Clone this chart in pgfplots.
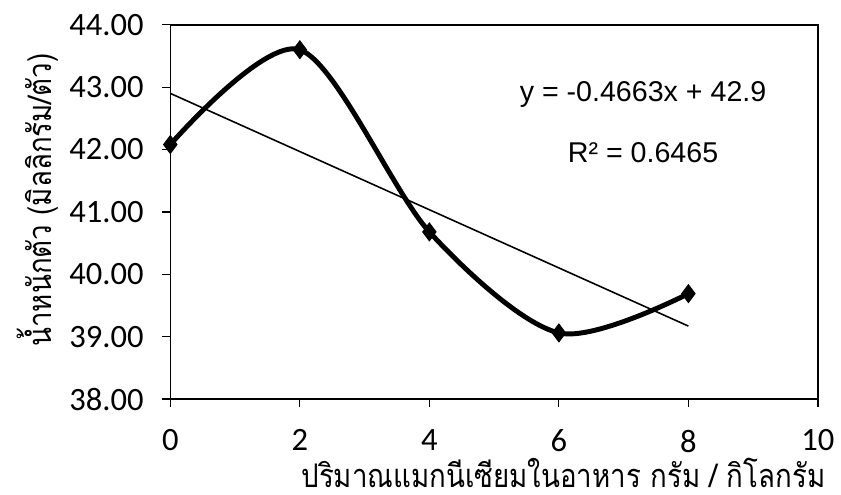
\documentclass[border=0pt]{standalone}
\usepackage{fontspec}
\setmainfont{Carlito}
\newfontfamily\thaifont[Script=Thai, FakeStretch=0.85]{Loma}
\newfontfamily\arialfont{Liberation Sans}
\usepackage{pgfplots}
\pgfplotsset{compat=1.18}

\begin{document}
\begin{tikzpicture}
\begin{axis}[
    at={(0,0)}, anchor=south west,
    scale only axis,
    width=327bp, height=189bp,
    xmin=0, xmax=10, ymin=38, ymax=44,
    xtick={0,2,4,6,8,10},
    ytick={38,39,...,44},
    xtick pos=bottom, ytick pos=left,
    tick align=outside,
    major tick length=4bp,
    tick style={black, line width=0.6pt},
    axis line style={black, line width=0.8pt},
    /pgf/number format/assume math mode=true,
    yticklabel style={/pgf/number format/fixed, /pgf/number format/fixed zerofill, /pgf/number format/precision=2, xshift=-6bp},
    ticklabel style={font=\fontsize{16.5}{18}\selectfont},
    xticklabel style={yshift=-8bp},
    xlabel={\thaifont ปริมาณแมกนีเซียมในอาหาร กรัม / กิโลกรัม},
    xlabel style={font=\fontsize{16.5}{18}\selectfont, at={(rel axis cs:0.607,0)}, anchor=base, inner sep=0pt, yshift=-44.5bp},
    ylabel={\thaifont น้ำหนักตัว (มิลลิกรัม/ตัว)},
    ylabel style={font=\fontsize{16.5}{18}\selectfont, at={(rel axis cs:0,0.532)}, anchor=center, yshift=67bp},
    clip=false,
]
% fitted trend line
\addplot[black, line width=0.8pt] coordinates {(0,42.9) (8,39.1696)};
% measured values
\addplot[black, line width=2.5pt, smooth, tension=0.5,
    mark=diamond*, mark size=4.5bp, mark options={solid, line width=0.5pt}]
    coordinates {(0,42.08) (2,43.6) (4,40.68) (6,39.06) (8,39.69)};
\node[font=\arialfont\fontsize{14.5}{16}\selectfont] at (axis cs:7.3,42.89) {y = -0.4663x + 42.9};
\node[font=\arialfont\fontsize{14.5}{16}\selectfont] at (axis cs:7.3,41.95) {R² = 0.6465};
\end{axis}
\path (-86bp,-48bp) rectangle (334.5bp,201.5bp);
\end{tikzpicture}
\end{document}
